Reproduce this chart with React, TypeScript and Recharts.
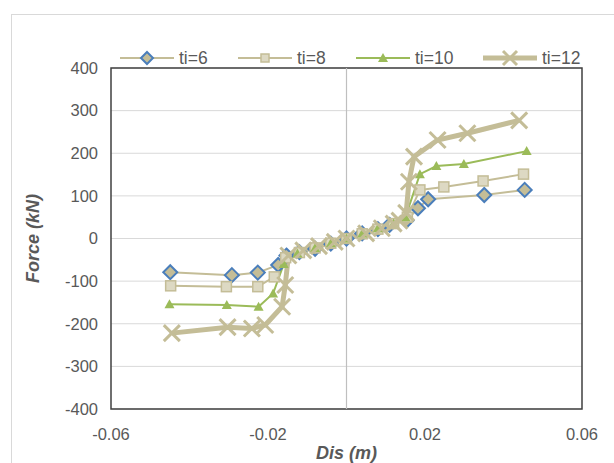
import React from "react";
import {
  ComposedChart,
  Line,
  XAxis,
  YAxis,
  CartesianGrid,
  ReferenceLine,
  ReferenceArea,
} from "recharts";

// displacement (m) / force (kN), one pair per series
const dis6 = [-0.0449, -0.0292, -0.0226, -0.0174, -0.0153, -0.012, -0.008, -0.004, 0, 0.004, 0.008, 0.011, 0.0153, 0.0182, 0.0208, 0.0351, 0.0454];
const force6 = [-79, -86, -80, -62, -40, -32, -24, -12, 0, 12, 22, 32, 42, 71, 92, 102, 114];

const dis8 = [-0.0448, -0.0306, -0.0226, -0.0184, -0.0155, -0.012, -0.008, -0.004, 0, 0.004, 0.008, 0.012, 0.0155, 0.0187, 0.0248, 0.0348, 0.0451];
const force8 = [-111, -113, -113, -90, -45, -33, -22, -11, 0, 11, 22, 35, 50, 114, 121, 135, 151];

const dis10 = [-0.0451, -0.0305, -0.0224, -0.0187, -0.016, -0.0125, -0.008, -0.004, 0, 0.004, 0.008, 0.012, 0.015, 0.0187, 0.0229, 0.0299, 0.0459];
const force10 = [-154, -156, -160, -129, -60, -35, -22, -11, 0, 12, 24, 35, 50, 151, 170, 175, 205];

const dis12 = [-0.0445, -0.0303, -0.0241, -0.0207, -0.0164, -0.0156, -0.0148, -0.011, -0.007, -0.003, 0, 0.005, 0.009, 0.012, 0.0135, 0.0152, 0.0159, 0.0172, 0.0232, 0.0308, 0.044];
const force12 = [-222, -208, -211, -203, -160, -109, -40, -28, -18, -8, 0, 12, 24, 35, 42, 60, 133, 192, 231, 247, 277];

const xTicks = [-0.06, -0.02, 0.02, 0.06];
const yTicks = [-400, -300, -200, -100, 0, 100, 200, 300, 400];

const toRows = (xs: number[], ys: number[]) => xs.map((x, i) => ({ x, y: ys[i] }));

const TAN = "#C4BD97";
const GREEN = "#9BBB59";
const BLUE = "#4A7EBB";
const TEXT = "#595959";
const FONT = "'Liberation Sans', Arial, sans-serif";

const Diamond = ({ cx, cy, s = 7 }: any) => (
  <polygon
    points={`${cx},${cy - s} ${cx + s},${cy} ${cx},${cy + s} ${cx - s},${cy}`}
    fill={TAN}
    stroke={BLUE}
    strokeWidth={2}
  />
);
const Square = ({ cx, cy, s = 5 }: any) => (
  <rect x={cx - s} y={cy - s} width={2 * s} height={2 * s} fill="#DDD9C3" stroke={TAN} strokeWidth={1.5} />
);
const Tri = ({ cx, cy, s = 5 }: any) => (
  <polygon points={`${cx},${cy - s} ${cx + s},${cy + s * 0.8} ${cx - s},${cy + s * 0.8}`} fill={GREEN} />
);
const Cross = ({ cx, cy, s = 8 }: any) => (
  <g stroke={TAN} strokeWidth={3}>
    <line x1={cx - s} y1={cy - s} x2={cx + s} y2={cy + s} />
    <line x1={cx - s} y1={cy + s} x2={cx + s} y2={cy - s} />
  </g>
);

const dotFn = (Shape: any) => (p: any) => (
  <g key={`d-${p.index}`}>
    <Shape cx={p.cx} cy={p.cy} />
  </g>
);

const legendItems = [
  { name: "ti=6", left: 120, color: TAN, width: 2, Shape: Diamond, size: 6 },
  { name: "ti=8", left: 238, color: TAN, width: 2, Shape: Square, size: 4 },
  { name: "ti=10", left: 356, color: GREEN, width: 2, Shape: Tri, size: 5 },
  { name: "ti=12", left: 483, color: TAN, width: 5, Shape: Cross, size: 7 },
];

export default function App() {
  return (
    <div style={{ position: "absolute", left: 0, top: 0, width: 614, height: 463, overflow: "hidden", background: "#fff", fontFamily: FONT }}>
      {/* outer chart border, only top/left visible in the crop */}
      <div style={{ position: "absolute", left: 11, top: 14, width: 700, height: 600, border: "1.5px solid #D9D9D9" }} />

      <ComposedChart
        width={614}
        height={463}
        margin={{ top: 68, right: 32, bottom: 0, left: 0 }}
        style={{ position: "absolute", left: 0, top: 0 }}
      >
        <CartesianGrid vertical={false} stroke="#D9D9D9" strokeWidth={1} />
        <XAxis
          type="number"
          dataKey="x"
          domain={[-0.06, 0.06]}
          ticks={xTicks}
          allowDataOverflow
          axisLine={false}
          tickLine={false}
          tickSize={0}
          tickMargin={19}
          height={54}
          tick={{ fill: TEXT, fontSize: 16.5, fontFamily: FONT }}
          label={{
            content: ({ viewBox }: any) => (
              <text
                x={viewBox.x + viewBox.width / 2}
                y={viewBox.y + 50}
                textAnchor="middle"
                fill={TEXT}
                fontSize={18}
                fontWeight="bold"
                fontStyle="italic"
                fontFamily={FONT}
              >
                Dis (m)
              </text>
            ),
          }}
        />
        <YAxis
          type="number"
          dataKey="y"
          domain={[-400, 400]}
          ticks={yTicks}
          allowDataOverflow
          axisLine={false}
          tickLine={false}
          tickSize={0}
          tickMargin={13}
          width={111}
          tick={{ fill: TEXT, fontSize: 16.5, fontFamily: FONT }}
          label={{
            content: ({ viewBox }: any) => {
              const x = viewBox.x + 39;
              const y = viewBox.y + viewBox.height / 2;
              return (
                <text
                  x={x}
                  y={y}
                  transform={`rotate(-90 ${x} ${y})`}
                  textAnchor="middle"
                  fill={TEXT}
                  fontSize={18}
                  fontWeight="bold"
                  fontStyle="italic"
                  fontFamily={FONT}
                >
                  Force (kN)
                </text>
              );
            },
          }}
        />
        <ReferenceLine x={0} stroke="#BFBFBF" strokeWidth={1.2} />
        <ReferenceArea x1={-0.06} x2={0.06} y1={-400} y2={400} fill="none" stroke="#404040" strokeWidth={1.5} fillOpacity={0} />

        <Line data={toRows(dis6, force6)} dataKey="y" stroke={TAN} strokeWidth={2} dot={dotFn(Diamond)} isAnimationActive={false} />
        <Line data={toRows(dis8, force8)} dataKey="y" stroke={TAN} strokeWidth={2} dot={dotFn(Square)} isAnimationActive={false} />
        <Line data={toRows(dis10, force10)} dataKey="y" stroke={GREEN} strokeWidth={2} dot={dotFn(Tri)} isAnimationActive={false} />
        <Line data={toRows(dis12, force12)} dataKey="y" stroke={TAN} strokeWidth={5} dot={dotFn(Cross)} isAnimationActive={false} />
      </ComposedChart>

      {/* legend */}
      {legendItems.map((it) => (
        <div key={it.name} style={{ position: "absolute", left: it.left, top: 48, height: 20, display: "flex", alignItems: "center" }}>
          <svg width={54} height={20}>
            <line x1={0} y1={10} x2={54} y2={10} stroke={it.color} strokeWidth={it.width} strokeLinecap="round" />
            <it.Shape cx={27} cy={10} s={it.size} />
          </svg>
          <span style={{ marginLeft: 5, fontSize: 17.5, color: TEXT }}>{it.name}</span>
        </div>
      ))}
    </div>
  );
}
